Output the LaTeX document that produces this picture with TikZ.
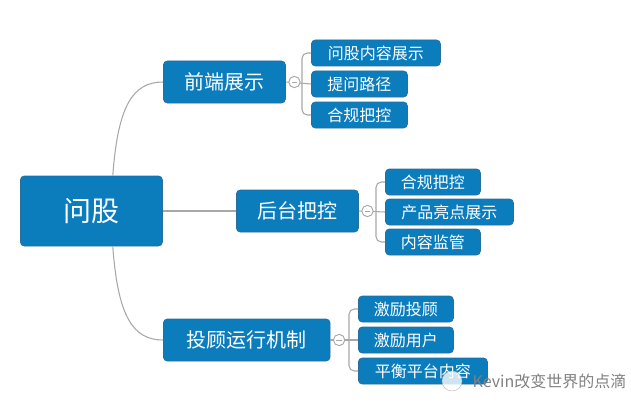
\documentclass[tikz,border=0pt]{standalone}
\usepackage{fontspec}
\setmainfont{Noto Sans CJK SC}
\begin{document}
\begin{tikzpicture}[x=0.75pt,y=-0.75pt,
  box/.style={fill=boxblue,draw=boxedge,line width=0.6pt,rounded corners=3pt,text=white,inner sep=0pt,anchor=west},
  leaf/.style={box,minimum height=19.5pt,font=\fontsize{12}{12}\selectfont},
  mid/.style={box,minimum height=31.5pt,font=\fontsize{15}{15}\selectfont},
  link/.style={draw=linegray,line width=0.8pt},
  knob/.style={circle,draw=linegray,fill=white,line width=0.7pt,minimum size=8.5pt,inner sep=0pt}]
\definecolor{boxblue}{HTML}{0B7DBD}
\definecolor{boxedge}{HTML}{2A6E9C}
\definecolor{linegray}{HTML}{A8A8A8}
\useasboundingbox (0,0) rectangle (631,410);
\node[box,minimum width=106.5pt,minimum height=52.5pt,font=\fontsize{21}{21}\selectfont] (root) at (20,211) {问股};
\node[mid,minimum width=91.5pt] (a) at (163,82) {前端展示};
\node[mid,minimum width=91.5pt] (b) at (236,211) {后台把控};
\node[mid,minimum width=125pt] (c) at (163,340) {投顾运行机制};
\path[link] ([xshift=-37.5pt]root.north east) .. controls +(5,-70) and +(-30,0) .. (a.west);
\path[link] ([xshift=-37.5pt]root.south east) .. controls +(5,70) and +(-30,0) .. (c.west);
\path[link] (root.east) -- (b.west);
% leaves
\node[leaf,minimum width=96.75pt] (a1) at (311,53) {问股内容展示};
\node[leaf,minimum width=72pt] (a2) at (311,84) {提问路径};
\node[leaf,minimum width=72pt] (a3) at (311,115) {合规把控};
\node[leaf,minimum width=71.25pt] (b1) at (385,182) {合规把控};
\node[leaf,minimum width=96pt] (b2) at (385,212) {产品亮点展示};
\node[leaf,minimum width=71.25pt] (b3) at (385,242) {内容监管};
\node[leaf,minimum width=71.25pt] (c1) at (358,309) {激励投顾};
\node[leaf,minimum width=71.25pt] (c2) at (358,340) {激励用户};
\node[leaf,minimum width=96.75pt] (c3) at (358,371) {平衡平台内容};
% brackets
\foreach \p/\q/\r/\s/\xv in {a/a1/a2/a3/302, b/b1/b2/b3/376, c/c1/c2/c3/349}{
  \path[link] (\p.east) -- (\r.west);
  \path[link,rounded corners=4pt] (\q.west) -| (\xv,0 |- \r.west) |- (\s.west);
  \node[knob] at ([xshift=6.5pt]\p.east) {\tikz\draw[linegray,line width=0.6pt](0,0)--(4pt,0);};
}
% watermark
\node[text=gray,font=\fontsize{12}{12}\selectfont,anchor=west] (wm) at (468,381) {Kevin改变世界的点滴};
\node[circle,fill=white,draw=gray!60,minimum size=15pt,inner sep=0pt,opacity=0.8] (logo) at (452,381) {};
\end{tikzpicture}
\end{document}
